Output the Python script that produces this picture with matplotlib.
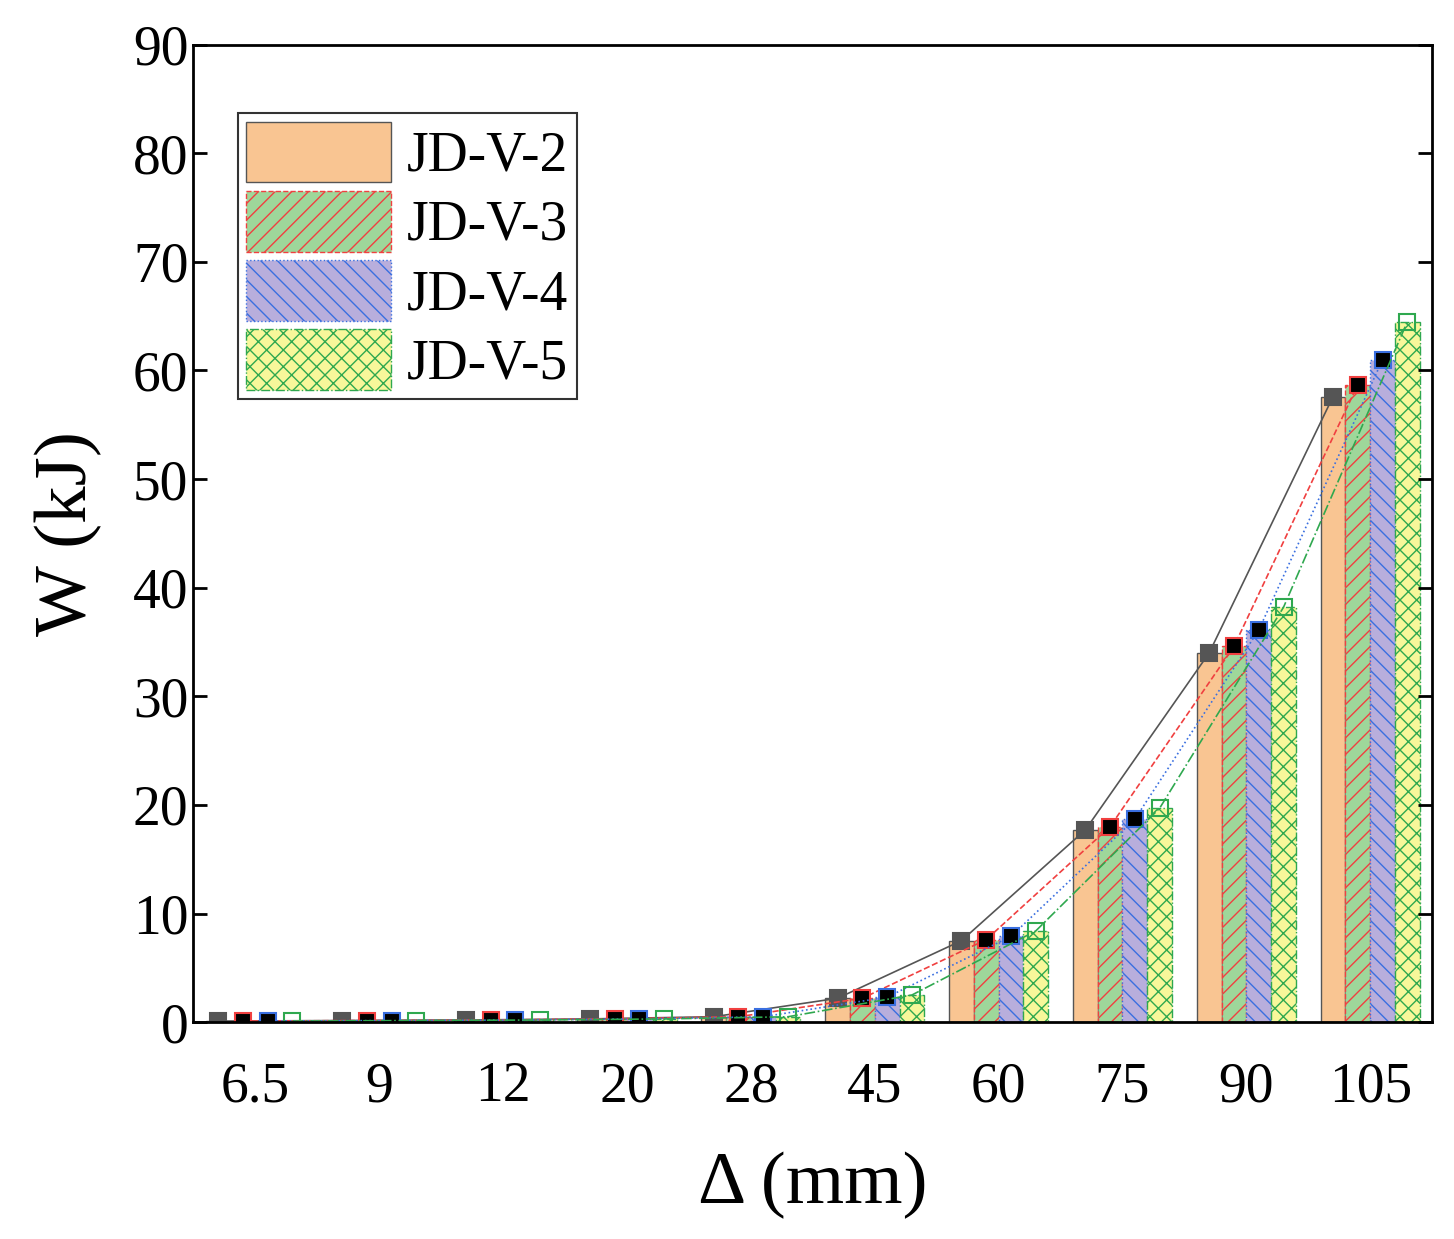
import matplotlib
matplotlib.use("Agg")
import matplotlib.pyplot as plt
import numpy as np

plt.rcParams["font.family"] = "Liberation Serif"
plt.rcParams["hatch.linewidth"] = 1.0

categories = ["6.5", "9", "12", "20", "28", "45", "60", "75", "90", "105"]
jd_v2 = [0.1, 0.15, 0.2, 0.3, 0.5, 2.2, 7.5, 17.7, 34.0, 57.6]
jd_v3 = [0.1, 0.15, 0.2, 0.3, 0.5, 2.2, 7.6, 18.0, 34.6, 58.7]
jd_v4 = [0.1, 0.15, 0.2, 0.3, 0.5, 2.3, 7.9, 18.7, 36.1, 61.0]
jd_v5 = [0.1, 0.15, 0.2, 0.3, 0.5, 2.5, 8.4, 19.7, 38.2, 64.5]
labels = ["JD-V-2", "JD-V-3", "JD-V-4", "JD-V-5"]

series = [jd_v2, jd_v3, jd_v4, jd_v5]
faces = ["#F9C592", "#9ED79A", "#B8AEDC", "#F7F79A"]
edges = ["#555555", "#F04040", "#3A6FE0", "#2FA84F"]
hatches = [None, "//", "\\\\", "xx"]
styles = ["-", "--", ":", "-."]
mfc = ["#555555", "black", "black", "none"]

fig = plt.figure(figsize=(14.54, 12.39), dpi=100)
ax = fig.add_axes([0.133, 0.175, 0.852, 0.789])
x = np.arange(len(categories))
w = 0.2
handles = []
for i, s in enumerate(series):
    xs = x + (i - 1.5) * w
    b = ax.bar(xs, s, w, color=faces[i], edgecolor=edges[i], hatch=hatches[i],
               linestyle=styles[i], linewidth=1.0, label=labels[i])
    handles.append(b)
    ax.plot(xs, s, linestyle=styles[i], color=edges[i], linewidth=1.2,
            marker="s", markersize=11, markerfacecolor=mfc[i],
            markeredgecolor=edges[i], markeredgewidth=1.5)

ax.set_xlim(-0.5, 9.5)
ax.set_ylim(0, 90)
ax.set_yticks(range(0, 91, 10))
ax.set_xticks(x)
ax.set_xticklabels(categories)
ax.tick_params(labelsize=40, direction="in", width=2, length=10, top=True, right=True)
ax.tick_params(axis="x", length=0, top=False, pad=28)
for sp in ax.spines.values():
    sp.set_linewidth(2)
ax.set_xlabel("Δ (mm)", fontsize=54, labelpad=28)
ax.set_ylabel("W (kJ)", fontsize=54, labelpad=22)
leg = ax.legend(handles=handles, loc="upper left", fontsize=40, fancybox=False,
                edgecolor="black", handlelength=2.6, handleheight=1.3,
                handletextpad=0.3, borderpad=0.15, borderaxespad=0.8,
                labelspacing=0.15, bbox_to_anchor=(0.0, 0.975))
leg.get_frame().set_linewidth(1.5)
fig.savefig("out.png", dpi=100)
